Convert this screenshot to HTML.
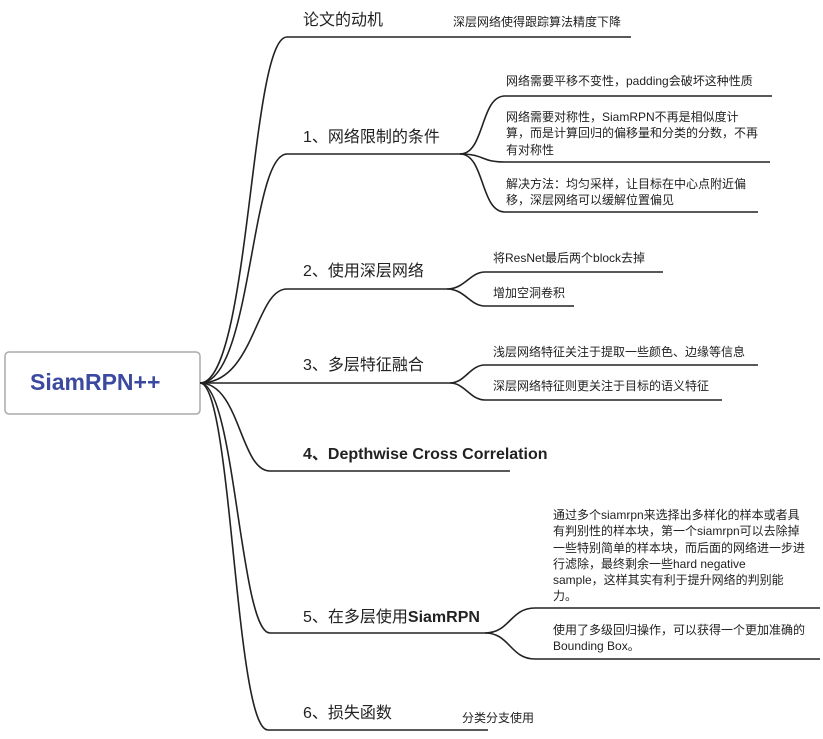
<!DOCTYPE html>
<html><head><meta charset="utf-8"><style>
body{margin:0;background:#fff;width:823px;height:739px;overflow:hidden;position:relative;font-family:"Liberation Sans","Noto Sans CJK SC",sans-serif;color:#222}
.t{position:absolute;white-space:nowrap}
.m{font-size:16px}
.c{font-size:12px;line-height:16.3px}
</style></head><body>
<svg width="823" height="739" style="position:absolute;left:0;top:0" fill="none" stroke="#222" stroke-width="1.6">
<rect x="5" y="352" width="195" height="62" rx="4" fill="#fff" stroke="#aaa" stroke-width="1.5"/>
<path d="M200 383 C250 383 250 37 287 37 L631 37"/>
<path d="M200 383 C252 383 250 154 287 154 L460 154"/>
<path d="M200 383 C255 383 255 289 287 289 L447 289"/>
<path d="M200 383 L450 383"/>
<path d="M200 383 C240 383 240 471 270 471 L510 471"/>
<path d="M200 383 C235 383 240 633 270 633 L485 633"/>
<path d="M200 383 C232 383 235 730 268 730 L488 730"/>
<path d="M460 154 C485 154 480 96 505 96 L772 96"/>
<path d="M460 154 C485 154 480 162 505 162 L770 162"/>
<path d="M460 154 C485 154 480 212 505 212 L758 212"/>
<path d="M447 289 C465 289 470 272 485 272 L663 272"/>
<path d="M447 289 C465 289 470 306 485 306 L574 306"/>
<path d="M450 383 C465 383 470 365 485 365 L758 365"/>
<path d="M450 383 C465 383 470 400 485 400 L722 400"/>
<path d="M485 633 C510 633 510 608 535 608 L820 608"/>
<path d="M485 633 C510 633 510 659 535 659 L820 659"/>
</svg>
<div class="t" style="left:30px;top:369px;font-size:23px;font-weight:bold;color:#3b4aa0">SiamRPN++</div>
<div class="t m" style="left:303px;top:6px">论文的动机</div>
<div class="t c" style="left:453px;top:14px">深层网络使得跟踪算法精度下降</div>
<div class="t m" style="left:303px;top:123px">1、网络限制的条件</div>
<div class="t c" style="left:506px;top:73px">网络需要平移不变性，padding会破坏这种性质</div>
<div class="t c" style="left:506px;top:109px">网络需要对称性，SiamRPN不再是相似度计<br>算，而是计算回归的偏移量和分类的分数，不再<br>有对称性</div>
<div class="t c" style="left:506px;top:176px">解决方法：均匀采样，让目标在中心点附近偏<br>移，深层网络可以缓解位置偏见</div>
<div class="t m" style="left:303px;top:257px">2、使用深层网络</div>
<div class="t c" style="left:493px;top:250px">将ResNet最后两个block去掉</div>
<div class="t c" style="left:493px;top:285px">增加空洞卷积</div>
<div class="t m" style="left:303px;top:351px">3、多层特征融合</div>
<div class="t c" style="left:493px;top:344px">浅层网络特征关注于提取一些颜色、边缘等信息</div>
<div class="t c" style="left:493px;top:378px">深层网络特征则更关注于目标的语义特征</div>
<div class="t m" style="left:303px;top:440px;font-weight:bold">4、Depthwise Cross Correlation</div>
<div class="t c" style="left:553px;top:507px">通过多个siamrpn来选择出多样化的样本或者具<br>有判别性的样本块，第一个siamrpn可以去除掉<br>一些特别简单的样本块，而后面的网络进一步进<br>行滤除，最终剩余一些hard negative<br>sample，这样其实有利于提升网络的判别能<br>力。</div>
<div class="t m" style="left:303px;top:603px">5、在多层使用<b>SiamRPN</b></div>
<div class="t c" style="left:553px;top:622px">使用了多级回归操作，可以获得一个更加准确的<br>Bounding Box。</div>
<div class="t m" style="left:303px;top:699px">6、损失函数</div>
<div class="t c" style="left:462px;top:710px">分类分支使用</div>
</body></html>
